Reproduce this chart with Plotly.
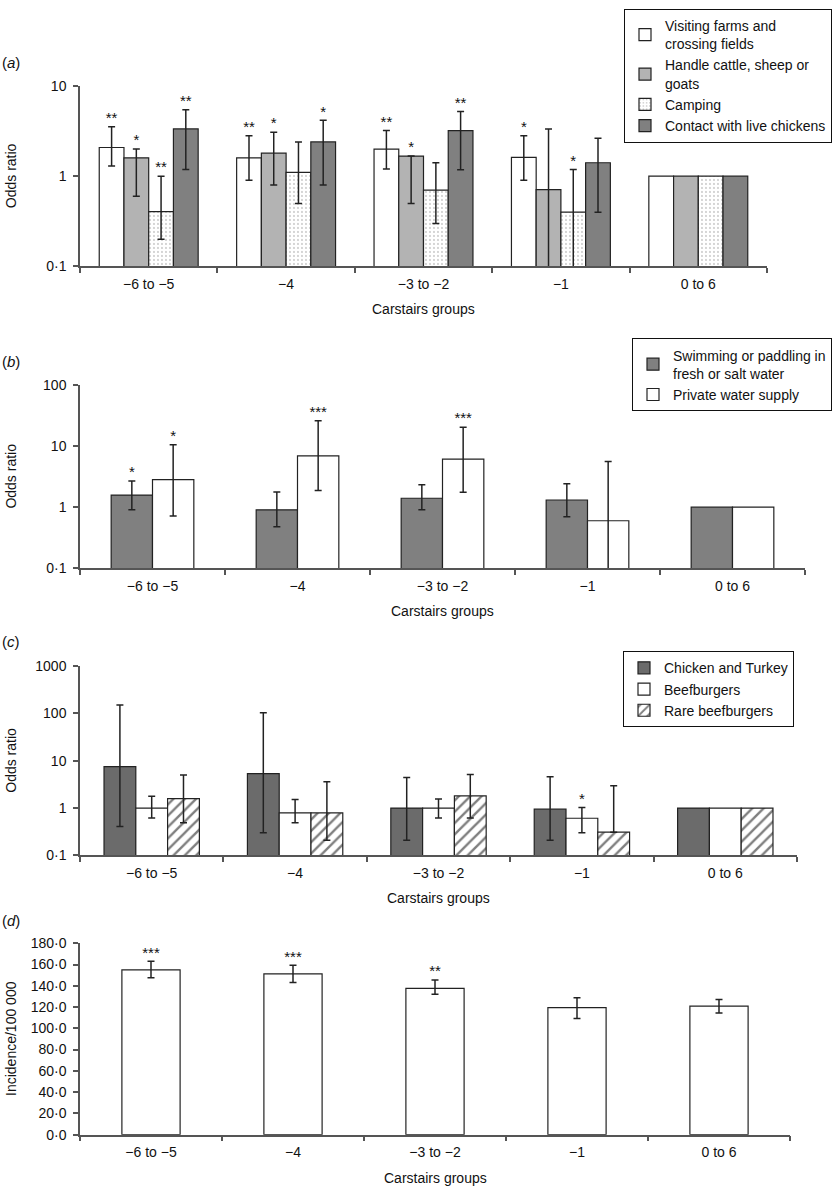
import plotly.graph_objects as go

FONT = "Liberation Sans, Arial, sans-serif"

groups = ["−6 to −5", "−4", "−3 to −2", "−1", "0 to 6"]

# ---------- panel (a) ----------
a_names = ["Visiting farms and<br>crossing fields", "Handle cattle, sheep or<br>goats",
           "Camping", "Contact with live chickens"]
a_visit = [2.08, 1.60, 2.00, 1.62, 1.0]
a_visit_hi = [3.54, 2.80, 3.20, 2.80, None]
a_visit_lo = [1.30, 0.90, 1.20, 0.90, None]
a_visit_sig = ["**", "**", "**", "*", ""]
a_cattle = [1.60, 1.80, 1.67, 0.71, 1.0]
a_cattle_hi = [2.00, 3.07, 1.67, 3.34, None]
a_cattle_lo = [0.60, 0.80, 0.50, 0.05, None]
a_cattle_sig = ["*", "*", "*", "", ""]
a_camp = [0.405, 1.10, 0.70, 0.40, 1.0]
a_camp_hi = [1.00, 2.40, 1.41, 1.19, None]
a_camp_lo = [0.20, 0.50, 0.30, 0.05, None]
a_camp_sig = ["**", "", "", "*", ""]
a_chick = [3.34, 2.40, 3.20, 1.41, 1.0]
a_chick_hi = [5.45, 4.16, 5.20, 2.64, None]
a_chick_lo = [1.19, 0.80, 1.18, 0.40, None]
a_chick_sig = ["**", "*", "**", "", ""]
a_ticks = [0.1, 1, 10]
a_ticktext = ["0·1", "1", "10"]

# ---------- panel (b) ----------
b_names = ["Swimming or paddling in<br>fresh or salt water", "Private water supply"]
b_swim = [1.58, 0.905, 1.40, 1.31, 1.0]
b_swim_hi = [2.69, 1.77, 2.32, 2.41, None]
b_swim_lo = [0.905, 0.48, 0.905, 0.70, None]
b_swim_sig = ["*", "", "", "", ""]
b_priv = [2.83, 6.9, 6.1, 0.60, 1.0]
b_priv_hi = [10.5, 25.9, 20.3, 5.59, None]
b_priv_lo = [0.716, 1.88, 1.75, 0.05, None]
b_priv_sig = ["*", "***", "***", "", ""]
b_ticks = [0.1, 1, 10, 100]
b_ticktext = ["0·1", "1", "10", "100"]

# ---------- panel (c) ----------
c_names = ["Chicken and Turkey", "Beefburgers", "Rare beefburgers"]
c_chick = [7.5, 5.36, 1.0, 0.95, 1.0]
c_chick_hi = [151, 103, 4.4, 4.57, None]
c_chick_lo = [0.41, 0.30, 0.21, 0.21, None]
c_chick_sig = ["", "", "", "", ""]
c_beef = [1.0, 0.79, 1.0, 0.61, 1.0]
c_beef_hi = [1.78, 1.51, 1.56, 1.03, None]
c_beef_lo = [0.62, 0.49, 0.62, 0.30, None]
c_beef_sig = ["", "", "", "*", ""]
c_rare = [1.59, 0.79, 1.81, 0.31, 1.0]
c_rare_hi = [5.0, 3.6, 5.1, 2.97, None]
c_rare_lo = [0.49, 0.21, 0.62, 0.31, None]
c_rare_sig = ["", "", "", "", ""]
c_ticks = [0.1, 1, 10, 100, 1000]
c_ticktext = ["0·1", "1", "10", "100", "1000"]

# ---------- panel (d) ----------
d_inc = [154.9, 151.2, 137.6, 119.4, 120.9]
d_inc_hi = [163.0, 159.3, 145.4, 128.7, 127.1]
d_inc_lo = [147.5, 143.2, 132.1, 109.2, 114.4]
d_inc_sig = ["***", "***", "**", "", ""]
d_ticks = [0, 20, 40, 60, 80, 100, 120, 140, 160, 180]
d_ticktext = ["0·0", "20·0", "40·0", "60·0", "80·0", "100·0", "120·0", "140·0", "160·0", "180·0"]

W, H = 832, 1190
AXC = "#555555"
TXT = "#111111"


def px_y(p):
    return 1 - p / H


fig = go.Figure()


def add_panel(k, series, group_frac, legend_name):
    xa = "x" if k == 1 else f"x{k}"
    ya = "y" if k == 1 else f"y{k}"
    n = len(series)
    w = group_frac / n
    for j, s in enumerate(series):
        xs = [i + (j - (n - 1) / 2) * w for i in range(len(groups))]
        pat = s.get("pattern")
        marker = dict(color=s["color"], line=dict(color="#222222", width=1.2))
        if pat:
            marker["pattern"] = pat
        fig.add_trace(go.Bar(
            x=xs, y=s["v"], width=w, name=s["name"], xaxis=xa, yaxis=ya,
            marker=marker, legend=legend_name, showlegend=legend_name is not None,
            hoverinfo="skip"))
        idx = [i for i in range(len(groups)) if s["hi"][i] is not None]
        fig.add_trace(go.Scatter(
            x=[xs[i] for i in idx], y=[s["v"][i] for i in idx], mode="markers",
            marker=dict(size=1, color="rgba(0,0,0,0)"), xaxis=xa, yaxis=ya,
            showlegend=False, hoverinfo="skip",
            error_y=dict(type="data", symmetric=False,
                         array=[s["hi"][i] - s["v"][i] for i in idx],
                         arrayminus=[s["v"][i] - s["lo"][i] for i in idx],
                         color="#222222", thickness=1.5, width=3.5)))
        sidx = [i for i in range(len(groups)) if s["sig"][i]]
        if sidx:
            fig.add_trace(go.Scatter(
                x=[xs[i] for i in sidx], y=[s["hi"][i] for i in sidx],
                text=[s["sig"][i] for i in sidx], mode="text",
                textposition="top center", cliponaxis=False,
                textfont=dict(family=FONT, size=15, color=TXT),
                xaxis=xa, yaxis=ya, showlegend=False, hoverinfo="skip"))


dots = dict(shape=".", fgcolor="#333333", bgcolor="white", size=4, solidity=0.12)
hatch = dict(shape="/", fgcolor="#000000", bgcolor="white", size=8, solidity=0.3)

add_panel(1, [
    dict(name=a_names[0], v=a_visit, hi=a_visit_hi, lo=a_visit_lo, sig=a_visit_sig, color="white"),
    dict(name=a_names[1], v=a_cattle, hi=a_cattle_hi, lo=a_cattle_lo, sig=a_cattle_sig, color="#b3b3b3"),
    dict(name=a_names[2], v=a_camp, hi=a_camp_hi, lo=a_camp_lo, sig=a_camp_sig, color="white", pattern=dots),
    dict(name=a_names[3], v=a_chick, hi=a_chick_hi, lo=a_chick_lo, sig=a_chick_sig, color="#808080"),
], 0.72, "legend")

add_panel(2, [
    dict(name=b_names[0], v=b_swim, hi=b_swim_hi, lo=b_swim_lo, sig=b_swim_sig, color="#808080"),
    dict(name=b_names[1], v=b_priv, hi=b_priv_hi, lo=b_priv_lo, sig=b_priv_sig, color="white"),
], 0.57, "legend2")

add_panel(3, [
    dict(name=c_names[0], v=c_chick, hi=c_chick_hi, lo=c_chick_lo, sig=c_chick_sig, color="#6b6b6b"),
    dict(name=c_names[1], v=c_beef, hi=c_beef_hi, lo=c_beef_lo, sig=c_beef_sig, color="white"),
    dict(name=c_names[2], v=c_rare, hi=c_rare_hi, lo=c_rare_lo, sig=c_rare_sig, color="white", pattern=hatch),
], 0.665, "legend3")

add_panel(4, [
    dict(name="Incidence", v=d_inc, hi=d_inc_hi, lo=d_inc_lo, sig=d_inc_sig, color="white"),
], 0.41, None)

# panel geometry (pixels)
panels = [
    dict(top=79, bottom=262, right=767, ytype="log", yrange=[-1, 1], tv=a_ticks, tt=a_ticktext,
         ytitle="Odds ratio", label="a", labely=55),
    dict(top=382, bottom=568, right=805, ytype="log", yrange=[-1, 2], tv=b_ticks, tt=b_ticktext,
         ytitle="Odds ratio", label="b", labely=358),
    dict(top=667, bottom=859, right=797, ytype="log", yrange=[-1, 3], tv=c_ticks, tt=c_ticktext,
         ytitle="Odds ratio", label="c", labely=642),
    dict(top=948, bottom=1142, right=790, ytype="linear", yrange=[0, 180], tv=d_ticks, tt=d_ticktext,
         ytitle="Incidence/100 000", label="d", labely=925),
]

LEFT = 80
annotations = []
for k, p in enumerate(panels, start=1):
    xkey = "xaxis" if k == 1 else f"xaxis{k}"
    ykey = "yaxis" if k == 1 else f"yaxis{k}"
    yname = "y" if k == 1 else f"y{k}"
    xname = "x" if k == 1 else f"x{k}"
    fig.layout[xkey] = dict(
        domain=[LEFT / W, p["right"] / W], anchor=yname, range=[-0.5, 4.5],
        tickmode="array", tickvals=list(range(len(groups))), ticktext=groups,
        ticks="outside", ticklen=4, tickcolor="rgba(0,0,0,0)",
        showline=True, linecolor=AXC, linewidth=1.5, showgrid=False, zeroline=False,
        tickfont=dict(family=FONT, size=14, color=TXT),
        minor=dict(tickmode="array", tickvals=[i - 0.5 for i in range(len(groups) + 1)],
                   ticks="outside", ticklen=5, tickcolor=AXC, tickwidth=1.5, showgrid=False),
        fixedrange=True)
    fig.layout[ykey] = dict(
        domain=[px_y(p["bottom"]), px_y(p["top"])], anchor=xname, type=p["ytype"],
        range=p["yrange"], tickmode="array", tickvals=p["tv"], ticktext=p["tt"],
        ticks="outside", ticklen=5, tickcolor=AXC, tickwidth=1.5, ticklabelstandoff=4,
        showline=True, linecolor=AXC, linewidth=1.5, showgrid=False, zeroline=False,
        tickfont=dict(family=FONT, size=14, color=TXT), fixedrange=True)
    cy = (p["top"] + p["bottom"]) / 2
    annotations.append(dict(text=p["ytitle"], textangle=-90, x=11 / W, y=px_y(cy),
                            xref="paper", yref="paper", showarrow=False,
                            xanchor="center", yanchor="middle",
                            font=dict(family=FONT, size=14, color=TXT)))
    annotations.append(dict(text="Carstairs groups", x=0.5, y=0, xref=f"{xname} domain",
                            yref=f"{yname} domain", yshift=-43, showarrow=False,
                            xanchor="center", yanchor="middle",
                            font=dict(family=FONT, size=14, color=TXT)))
    annotations.append(dict(text=f"(<i>{p['label']}</i>)", x=0, y=px_y(p["labely"]),
                            xref="paper", yref="paper", showarrow=False,
                            xanchor="left", yanchor="middle",
                            font=dict(family=FONT, size=15, color=TXT)))

leg_common = dict(bgcolor="white", bordercolor="#111111", borderwidth=1,
                  font=dict(family=FONT, size=14, color=TXT),
                  xanchor="right", yanchor="top", tracegroupgap=0, traceorder="normal")

fig.update_layout(
    width=W, height=H, margin=dict(l=0, r=0, t=0, b=0),
    paper_bgcolor="white", plot_bgcolor="white", barmode="overlay",
    annotations=annotations, hovermode=False,
    legend=dict(x=1, y=px_y(1), **leg_common),
    legend2=dict(x=1, y=px_y(335), **leg_common),
    legend3=dict(x=794 / W, y=px_y(652), **leg_common),
)

fig.write_html("out.html", config={"displayModeBar": False},
               post_script="document.body.style.margin='0';document.body.style.overflow='hidden';")
